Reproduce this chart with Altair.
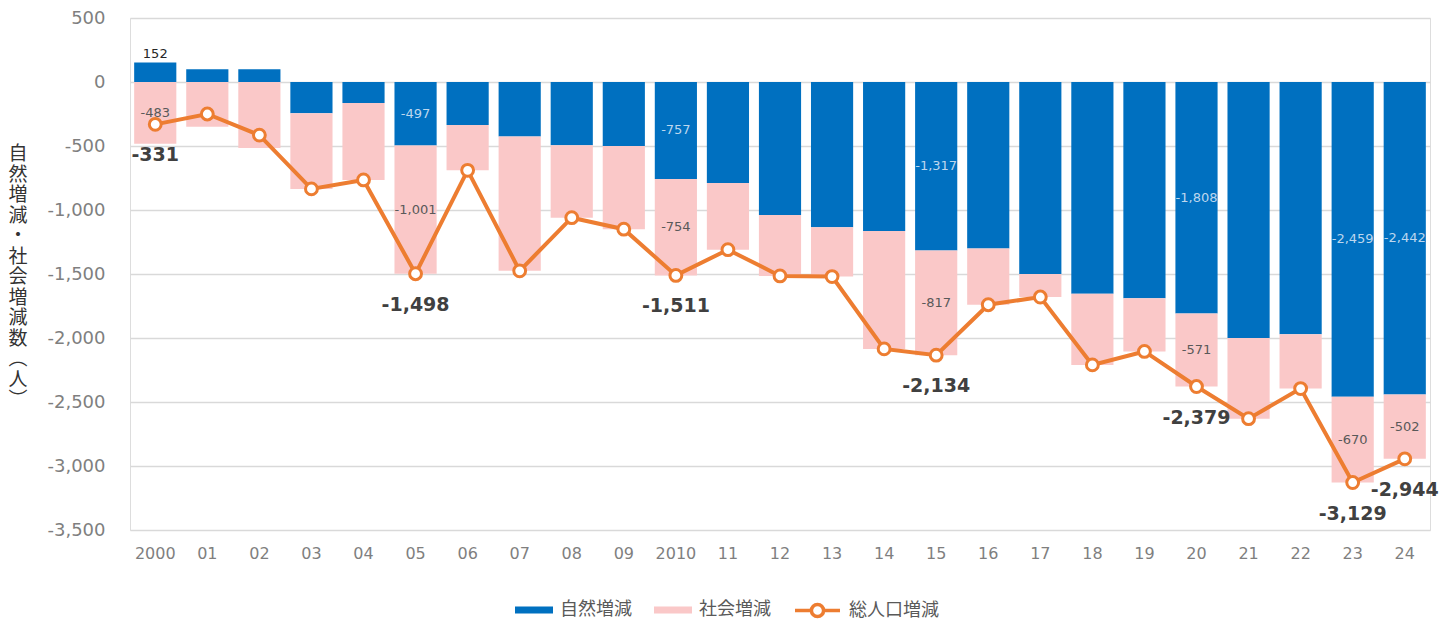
import altair as alt
import pandas as pd

# ---- data ----
years = ["2000", "01", "02", "03", "04", "05", "06", "07", "08", "09",
         "2010", "11", "12", "13", "14", "15", "16", "17", "18", "19",
         "20", "21", "22", "23", "24"]
natural = [152, 100, 100, -245, -165, -497, -335, -425, -495, -500,
           -757, -790, -1040, -1135, -1165, -1317, -1300, -1500, -1655, -1690,
           -1808, -2000, -1970, -2459, -2442]
social = [-483, -350, -515, -590, -600, -1001, -355, -1050, -565, -650,
          -754, -520, -475, -385, -920, -817, -440, -180, -555, -415,
          -571, -630, -425, -670, -502]
total = [-331, -250, -415, -835, -765, -1498, -690, -1475, -1060, -1150,
         -1511, -1310, -1515, -1520, -2085, -2134, -1740, -1680, -2210, -2105,
         -2379, -2630, -2395, -3129, -2944]
labeled_years = ["2000", "05", "2010", "15", "20", "23", "24"]
series_names = ["自然増減", "社会増減", "総人口増減"]
y_title_chars = ["自", "然", "増", "減", "・", "社", "会", "増", "減", "数", "︵", "人", "︶"]

BLUE = "#0070C0"
PINK = "#FAC8C8"
ORANGE = "#ED7D31"
NUM_FONT = "DejaVu Sans"
JP_FONT = "Noto Sans CJK JP"

rows = []
for yr, n, s in zip(years, natural, social):
    rows.append(dict(year=yr, series=series_names[0], start=0, end=n, value=n))
    base = n if n < 0 else 0
    rows.append(dict(year=yr, series=series_names[1], start=base, end=base + s, value=s))
bars = pd.DataFrame(rows)
bars["mid"] = (bars["start"] + bars["end"]) / 2
bars["label"] = bars["value"].map(lambda v: f"{v:,}")
bars["show"] = bars["year"].isin(labeled_years)

tot = pd.DataFrame(dict(year=years, total=total))
tot["series"] = series_names[2]
tot["label"] = tot["total"].map(lambda v: f"{v:,}")
tot["show"] = tot["year"].isin(labeled_years)

x = alt.X("year:N", sort=years,
          scale=alt.Scale(paddingInner=0.19, paddingOuter=0.08),
          axis=alt.Axis(title=None, labelAngle=0, ticks=False, domain=False,
                        labelColor="#7F7F7F", labelFontSize=16, labelFont=NUM_FONT,
                        labelPadding=15, grid=False))
yscale = alt.Scale(domain=[-3500, 500], nice=False)
yaxis = alt.Axis(values=list(range(-3500, 501, 500)),
                 labelExpr="replace(format(datum.value, ','), '\u2212', '-')",
                 ticks=False, domain=False, grid=True, gridColor="#D9D9D9", gridWidth=1.5,
                 labelColor="#7F7F7F", labelFontSize=18, labelFont=NUM_FONT, labelPadding=25,
                 title=None)

legend_common = dict(orient="none", direction="horizontal", title=None,
                     labelFont=JP_FONT, labelFontSize=18, labelColor="#595959",
                     labelOffset=7, columnPadding=22)

bar = alt.Chart(bars).mark_bar().encode(
    x=x,
    y=alt.Y("start:Q", scale=yscale, axis=yaxis),
    y2="end:Q",
    color=alt.Color("series:N",
                    scale=alt.Scale(domain=series_names[:2], range=[BLUE, PINK]),
                    legend=alt.Legend(symbolType="M-1,-0.19H1V0.19H-1Z", symbolSize=1444,
                                      symbolStrokeWidth=0, legendX=385, legendY=573,
                                      **legend_common)),
)

nat_in = alt.Chart(bars).transform_filter(
    "datum.show && datum.series == '自然増減' && datum.value < 0"
).mark_text(font=NUM_FONT, fontSize=13, color="#BDD7EE").encode(
    x=x, y=alt.Y("mid:Q", scale=yscale), text="label:N")

nat_pos = alt.Chart(bars).transform_filter(
    "datum.show && datum.series == '自然増減' && datum.value > 0"
).mark_text(font=NUM_FONT, fontSize=13, color="#262626", baseline="bottom", dy=-2).encode(
    x=x, y=alt.Y("end:Q", scale=yscale), text="label:N")

soc_lab = alt.Chart(bars).transform_filter(
    "datum.show && datum.series == '社会増減'"
).mark_text(font=NUM_FONT, fontSize=13, color="#595959").encode(
    x=x, y=alt.Y("mid:Q", scale=yscale), text="label:N")

line = alt.Chart(tot).mark_line(strokeWidth=4).encode(
    x=x, y=alt.Y("total:Q", scale=yscale),
    stroke=alt.Stroke("series:N",
                      scale=alt.Scale(domain=[series_names[2]], range=[ORANGE]),
                      legend=alt.Legend(symbolType="M-1,0H-0.27M0.27,0H1M-0.27,0A0.27,0.27 0 1,1 0.27,0A0.27,0.27 0 1,1 -0.27,0Z",
                                        symbolSize=2025, symbolStrokeWidth=3.5,
                                        symbolFillColor="white", legendX=663, legendY=568,
                                        **legend_common)),
)

pts = alt.Chart(tot).mark_point(filled=True, fill="white", stroke=ORANGE, strokeWidth=3,
                                size=140, opacity=1).encode(
    x=x, y=alt.Y("total:Q", scale=yscale))

tot_lab = alt.Chart(tot).transform_filter("datum.show").mark_text(
    font=NUM_FONT, fontSize=19, fontWeight="bold", color="#404040", dy=31).encode(
    x=x, y=alt.Y("total:Q", scale=yscale), text="label:N")

y_title = alt.Chart(alt.Data(values=[{}])).mark_text(
    text=y_title_chars, font=JP_FONT, fontSize=19, lineHeight=20.5,
    color="#333333", align="center", baseline="middle").encode(
    x=alt.value(-112), y=alt.value(136))

chart = alt.layer(bar, line, pts, nat_in, nat_pos, soc_lab, tot_lab, y_title).properties(
    width=1300, height=512,
    padding={"left": 0, "top": 1, "right": 5, "bottom": 0},
).configure_view(stroke=None).configure(background="white")

chart.save("out.html", embed_options={"renderer": "svg", "actions": False})
